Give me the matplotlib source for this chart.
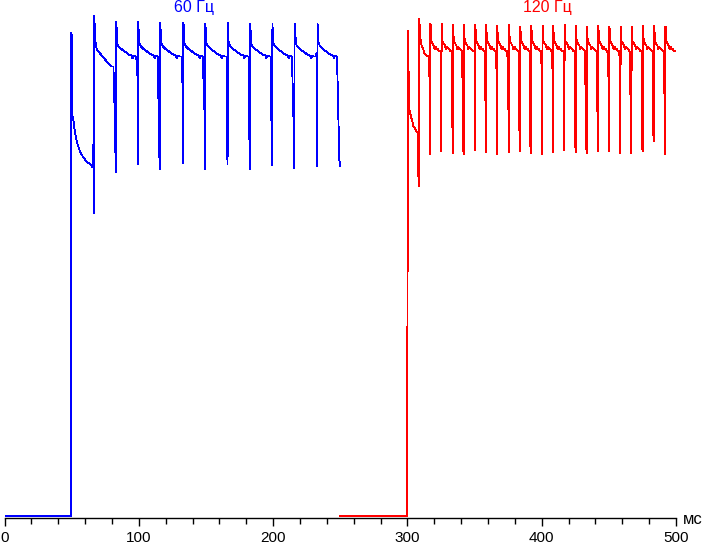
import matplotlib
matplotlib.use("Agg")
import matplotlib.pyplot as plt
from matplotlib.ticker import MultipleLocator

plt.rcParams['font.family'] = ['Liberation Sans', 'DejaVu Sans']

# ---------------- data (time in ms, level in arbitrary units) ----------------
# 60 Hz (blue)
blue_head_t = [0.0, 49.7, 49.75, 50.3, 50.6, 51.2, 51.8, 52.5, 53.8, 55.0, 56.2, 57.5, 58.7, 61.2, 63.1, 64.9, 65.7]
blue_head_v = [1.7, 1.7, 485, 480, 401, 398, 392, 385, 376, 371, 366, 363, 360, 356, 354, 352, 350]
blue_spike_t = [66.9, 83.0, 99.6, 116.0, 133.1, 149.6, 166.3, 182.7, 199.5, 216.0, 233.1]
blue_dip_thick = [373, 393, 456, 361, 450, 406, 375, 461, 383, 392, 465]
blue_bottom = [304, 345, 353, 348, 354, 348, 353, 348, 352, 349, 351]
blue_peak = [502, 496, 496, 495, 495, 494, 495, 494, 494, 494, 494]
blue_post = [475, 488, 476, 475, 491, 475, 474, 486, 475, 485, 476]
blue_first_dt = [0.9, 1.8, 3.0, 4.3, 5.5, 6.7, 8.0, 9.2, 10.5, 11.7, 13.0, 14.2, 15.5]
blue_first_v = [475, 468, 466, 464, 462, 460, 458, 456, 454, 452, 451, 451, 449]
blue_frame_dt = [0.9, 2.0, 3.5, 5.5, 7.5, 9.5, 11.5, 12.3, 13.0, 14.5, 15.8]
blue_frame_v = [474, 471, 469, 467, 465, 463, 462, 459, 462, 461, 461]
blue_tail_t = [249.3, 250.0]
blue_tail_v = [358, 351]

# 120 Hz (red)
red_head_t = [250.0, 299.9, 299.95, 300.7, 301.0, 301.2, 301.9, 302.7, 303.2, 303.9, 304.4, 305.7, 306.9, 307.7, 308.1]
red_head_v = [1.3, 1.3, 165, 487, 420, 411, 405, 401, 398, 395, 391, 389, 386, 384, 383]
red_spike_t = [308.9, 317.1, 325.5, 334.0, 342.1, 350.6, 358.7, 366.9, 375.7, 384.1, 392.3, 400.6,
               408.6, 417.1, 425.5, 433.7, 442.1, 450.3, 458.8, 467.0, 475.4, 483.6, 492.0]
red_dip_thick = [341, 440, 467, 411, 371, 466, 428, 466, 441, 387, 371, 440,
                 465, 465, 377, 375, 415, 455, 455, 401, 370, 389, 435]
red_bottom = [331, 363, 366, 364, 363, 367, 365, 363, 365, 366, 364, 363,
              365, 367, 365, 364, 366, 366, 364, 364, 366, 376, 363]
red_peak = [499, 494, 494, 493, 493, 493, 493, 492, 493, 491, 492, 492,
            492, 493, 492, 491, 492, 491, 491, 491, 492, 492, 491]
red_post = [480, 490, 475, 475, 475, 475, 475, 475, 475, 475, 476, 488,
            476, 475, 475, 475, 481, 486, 475, 475, 475, 483, 490]
red_first_dt = [1.8, 3.0, 3.7, 5.5, 6.7, 7.4]
red_first_v = [471, 468, 464, 462, 461, 460]
red_frame_dt = [0.8, 1.6, 2.5, 3.3, 3.8, 4.8, 5.8, 6.8, 7.4]
red_frame_v = [476, 474, 472, 468, 471, 469, 468, 466, 467]
red_tail_t = [500.0]
red_tail_v = [467]

x_ticks = [0, 100, 200, 300, 400, 500]
x_unit = "мс"
label_60 = "60 Гц"
label_120 = "120 Гц"


def build(head_t, head_v, spike_t, dip_thick, bottom, peak, post,
          first_dt, first_v, frame_dt, frame_v, end_t, tail_t, tail_v):
    t = list(head_t)
    v = list(head_v)
    for i, ts in enumerate(spike_t):
        t += [ts - 0.7, ts - 0.2, ts, ts + 0.6]
        v += [dip_thick[i], bottom[i], peak[i], post[i]]
        nxt = spike_t[i + 1] if i + 1 < len(spike_t) else end_t
        dts, vs = (first_dt, first_v) if i == 0 else (frame_dt, frame_v)
        for d, val in zip(dts, vs):
            if ts + d < nxt - 0.8:
                t.append(ts + d)
                v.append(val)
    t += list(tail_t)
    v += list(tail_v)
    return t, v


bt, bv = build(blue_head_t, blue_head_v, blue_spike_t, blue_dip_thick, blue_bottom,
               blue_peak, blue_post, blue_first_dt, blue_first_v,
               blue_frame_dt, blue_frame_v, blue_tail_t[0], blue_tail_t, blue_tail_v)
rt, rv = build(red_head_t, red_head_v, red_spike_t, red_dip_thick, red_bottom,
               red_peak, red_post, red_first_dt, red_first_v,
               red_frame_dt, red_frame_v, 500.8, red_tail_t, red_tail_v)

W, H = 703, 546
fig = plt.figure(figsize=(W / 100, H / 100), dpi=100)
ax = fig.add_axes([4.5 / W, 28.5 / H, (676 - 4.5) / W, 517.5 / H])
ax.plot(bt, bv, color='#0000ff', lw=0.6, antialiased=False)
ax.plot(rt, rv, color='#ff0000', lw=0.6, antialiased=False)
ax.set_xlim(0, 500)
ax.set_ylim(0, 517.5)
for s in ['top', 'right', 'left']:
    ax.spines[s].set_visible(False)
ax.spines['bottom'].set_linewidth(1.0)
ax.set_yticks([])
ax.set_xticks(x_ticks)
ax.set_xticklabels([str(x) for x in x_ticks])
ax.xaxis.set_minor_locator(MultipleLocator(20))
ax.tick_params(axis='x', which='major', direction='out', length=6, width=1, pad=3.5, labelsize=11)
ax.tick_params(axis='x', which='minor', direction='out', length=4, width=1)
ax.patch.set_alpha(0)

fig.text(194 / W, 1 - 7.5 / H, label_60, color='#0000ff', ha='center', va='center', fontsize=11.5)
fig.text(547 / W, 1 - 7.5 / H, label_120, color='#ff0000', ha='center', va='center', fontsize=11.5)
fig.text(693 / W, 1 - 519 / H, x_unit, color='black', ha='center', va='center', fontsize=12)

fig.savefig('out.png', dpi=100)
